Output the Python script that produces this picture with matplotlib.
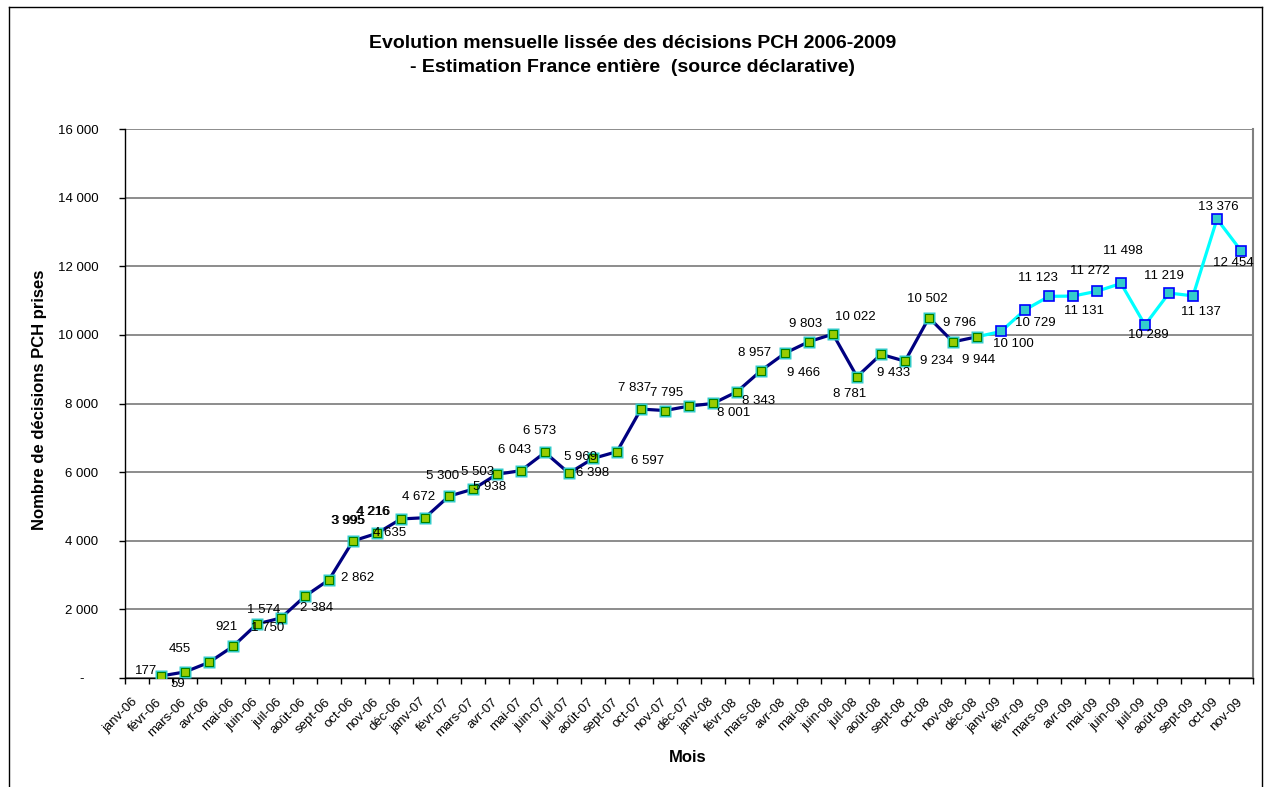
import numpy as np
import matplotlib
matplotlib.use('Agg')
import matplotlib.pyplot as plt
import matplotlib.transforms as mtransforms
from matplotlib.lines import Line2D

plt.rcParams['font.family'] = ['Liberation Sans', 'DejaVu Sans']

# ---------------- data ----------------
months = ['janv-06', 'févr-06', 'mars-06', 'avr-06', 'mai-06', 'juin-06', 'juil-06', 'août-06',
          'sept-06', 'oct-06', 'nov-06', 'déc-06',
          'janv-07', 'févr-07', 'mars-07', 'avr-07', 'mai-07', 'juin-07', 'juil-07', 'août-07',
          'sept-07', 'oct-07', 'nov-07', 'déc-07',
          'janv-08', 'févr-08', 'mars-08', 'avr-08', 'mai-08', 'juin-08', 'juil-08', 'août-08',
          'sept-08', 'oct-08', 'nov-08', 'déc-08',
          'janv-09', 'févr-09', 'mars-09', 'avr-09', 'mai-09', 'juin-09', 'juil-09', 'août-09',
          'sept-09', 'oct-09', 'nov-09']

decisions = [np.nan, 59, 177, 455, 921, 1574, 1750, 2384, 2862, 3995, 4216, 4635,
             4672, 5300, 5503, 5938, 6043, 6573, 5969, 6398, 6597, 7837, 7795, 7925,
             8001, 8343, 8957, 9466, 9803, 10022, 8781, 9433, 9234, 10502, 9796, 9944,
             10100, 10729, 11123, 11131, 11272, 11498, 10289, 11219, 11137, 13376, 12454]

last_observed = 'déc-08'        # end of the dark series / start of the estimated one
unlabelled = ['janv-06', 'déc-07']
doubled_labels = ['oct-06', 'nov-06']

y_ticks = [0, 2000, 4000, 6000, 8000, 10000, 12000, 14000, 16000]

# label offsets in pixels (dx right, dy down) - styling only
label_offsets = {
    'févr-06': (17, 8), 'mars-06': (-39, -1), 'avr-06': (-29, -13), 'mai-06': (-6, -19),
    'juin-06': (7, -14), 'juil-06': (-13, 10), 'août-06': (12, 12), 'sept-06': (29, -2),
    'oct-06': (-5, -20), 'nov-06': (-4, -21), 'déc-06': (-11, 14), 'janv-07': (-6, -21),
    'févr-07': (-6, -20), 'mars-07': (5, -17), 'avr-07': (-7, 13), 'mai-07': (-6, -21),
    'juin-07': (-5, -21), 'juil-07': (12, -16), 'août-07': (0, 15), 'sept-07': (31, 9),
    'oct-07': (-6, -21), 'nov-07': (2, -18), 'janv-08': (21, 10), 'févr-08': (22, 9),
    'mars-08': (-6, -18), 'avr-08': (19, 20), 'mai-08': (-3, -18), 'juin-08': (22, -17),
    'juil-08': (-7, 17), 'août-08': (13, 19), 'sept-08': (32, 0), 'oct-08': (-2, -19),
    'nov-08': (7, -19), 'déc-08': (2, 23), 'janv-09': (12, 13), 'févr-09': (10, 13),
    'mars-09': (-11, -18), 'avr-09': (11, 15), 'mai-09': (-7, -20), 'juin-09': (2, -32),
    'juil-09': (3, 10), 'août-09': (-5, -17), 'sept-09': (8, 16), 'oct-09': (1, -12),
    'nov-09': (-8, 12),
}

# ---------------- figure ----------------
W, H = 1266, 787
fig = plt.figure(figsize=(W / 100, H / 100), dpi=100)

left, right, top, bottom = 125, 1253, 129, 678
ax = fig.add_axes([left / W, 1 - bottom / H, (right - left) / W, (bottom - top) / H])

x = np.arange(len(months))
vals = np.array(decisions, dtype=float)
split = months.index(last_observed)

dark_x, dark_y = x[:split + 1], vals[:split + 1]
est_x, est_y = x[split:], vals[split:]

# estimated series (cyan)
ax.plot(est_x, est_y, color='#00FFFF', lw=2.3, zorder=3, solid_capstyle='round')
ax.plot(est_x[1:], est_y[1:], ls='none', marker='s', markersize=7.2,
        markerfacecolor='#33CCCC', markeredgecolor='#0000FF', markeredgewidth=1.2, zorder=6)

# observed series (navy)
ax.plot(dark_x, dark_y, color='#000080', lw=2.3, zorder=4, solid_capstyle='round')
ax.plot(dark_x, dark_y, ls='none', marker='s', markersize=8.0,
        markerfacecolor='#33CCCC', markeredgecolor='none', zorder=5)
ax.plot(dark_x, dark_y, ls='none', marker='s', markersize=5.6,
        markerfacecolor='#99CC00', markeredgecolor='#008000', markeredgewidth=0.8, zorder=5.5)

# data labels
for i, m in enumerate(months):
    if m in unlabelled or np.isnan(vals[i]):
        continue
    txt = f'{int(vals[i]):,}'.replace(',', ' ')
    dx, dy = label_offsets[m]
    n = 2 if m in doubled_labels else 1
    for k in range(n):
        ax.annotate(txt, (x[i], vals[i]), xytext=(dx + 0.4 * k, -dy), textcoords='offset pixels',
                    ha='center', va='center', fontsize=9.5, color='black', zorder=7)

# axes
ax.set_xlim(-0.5, len(months) - 0.5)
ax.set_ylim(0, 16000)
ax.set_yticks(y_ticks)
ax.set_yticklabels(['-    '] + [f'{v:,}'.replace(',', ' ') for v in y_ticks[1:]], fontsize=9.5)
ax.tick_params(axis='y', direction='out', length=4, width=1, pad=15, colors='black')
ax.yaxis.grid(True, color='#6e6e6e', lw=1.1)
ax.set_axisbelow(True)

ax.set_xticks(x)
ax.set_xticklabels(months, fontsize=9.5, rotation=45, ha='right', va='top', rotation_mode='anchor')
ax.tick_params(axis='x', which='major', length=0, pad=13)
ax.set_xticks(np.arange(len(months) + 1) - 0.5, minor=True)
ax.tick_params(axis='x', which='minor', direction='out', length=4, width=1, color='black')
off = mtransforms.ScaledTranslation(-5 / 100, 0, fig.dpi_scale_trans)
for lab in ax.get_xticklabels():
    lab.set_transform(lab.get_transform() + off)

for s in ['left', 'bottom']:
    ax.spines[s].set_color('black')
    ax.spines[s].set_linewidth(1.0)
ax.spines['right'].set_color('#808080')
ax.spines['right'].set_linewidth(1.5)
ax.spines['top'].set_visible(False)

ax.set_xlabel('Mois', fontsize=12, fontweight='bold')
ax.xaxis.set_label_coords((688 - left) / (right - left), -(758 - bottom) / (bottom - top))
ax.xaxis.label.set_va('center')
fig.text(40 / W, 1 - 400 / H, 'Nombre de décisions PCH prises', rotation=90,
         ha='center', va='center', fontsize=12, fontweight='bold')

fig.text(0.5, 1 - 43 / H, 'Evolution mensuelle lissée des décisions PCH 2006-2009',
         ha='center', va='center', fontsize=14, fontweight='bold')
fig.text(0.5, 1 - 68 / H, '- Estimation France entière  (source déclarative)',
         ha='center', va='center', fontsize=14, fontweight='bold')

# chart frame
fx0, fy0, fx1 = 9 / W, 1 - 7 / H, 1262 / W
fig.add_artist(Line2D([fx0, fx1], [fy0, fy0], color='black', lw=1, transform=fig.transFigure))
fig.add_artist(Line2D([fx0, fx0], [fy0, 0], color='black', lw=1, transform=fig.transFigure))
fig.add_artist(Line2D([fx1, fx1], [fy0, 0], color='black', lw=1, transform=fig.transFigure))

fig.savefig('out.png', dpi=100)
